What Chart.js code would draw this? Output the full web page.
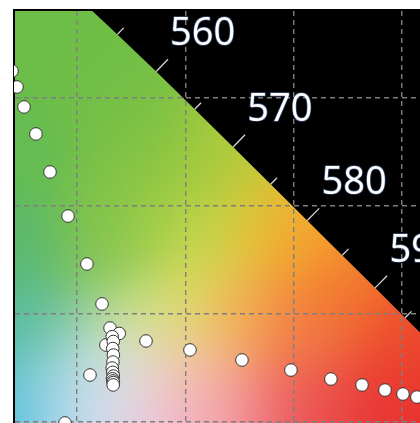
<!DOCTYPE html>
<html>
<head>
<meta charset="utf-8">
<script src="https://cdn.jsdelivr.net/npm/chart.js@4.4.1/dist/chart.umd.min.js"></script>
<style>
html, body { margin: 0; padding: 0; background: #fff; overflow: hidden; }
canvas { display: block; }
</style>
</head>
<body>
<canvas id="cie" width="420" height="423"></canvas>
<script>
// CIE 1931 spectral locus, 5 nm steps
const locusNm = [380,385,390,395,400,405,410,415,420,425,430,435,440,445,450,455,460,465,470,475,480,485,490,495,500,505,510,515,520,525,530,535,540,545,550,555,560,565,570,575,580,585,590,595,600,605,610,615,620,625,630,635,640,645,650,655,660,665,670,675,680,685,690,695,700];
const locusX = [0.1741,0.1740,0.1738,0.1736,0.1733,0.1730,0.1726,0.1721,0.1714,0.1703,0.1689,0.1669,0.1644,0.1611,0.1566,0.1510,0.1440,0.1355,0.1241,0.1096,0.0913,0.0687,0.0454,0.0235,0.0082,0.0039,0.0139,0.0389,0.0743,0.1142,0.1547,0.1929,0.2296,0.2658,0.3016,0.3373,0.3731,0.4087,0.4441,0.4788,0.5125,0.5448,0.5752,0.6029,0.6270,0.6482,0.6658,0.6801,0.6915,0.7006,0.7079,0.7140,0.7190,0.7230,0.7260,0.7283,0.7300,0.7311,0.7320,0.7327,0.7334,0.7340,0.7344,0.7346,0.7347];
const locusY = [0.0050,0.0050,0.0049,0.0049,0.0048,0.0048,0.0048,0.0048,0.0051,0.0058,0.0069,0.0086,0.0109,0.0138,0.0177,0.0227,0.0297,0.0399,0.0578,0.0868,0.1327,0.2007,0.2950,0.4127,0.5384,0.6548,0.7502,0.8120,0.8338,0.8262,0.8059,0.7816,0.7543,0.7243,0.6923,0.6589,0.6245,0.5896,0.5547,0.5202,0.4866,0.4544,0.4242,0.3965,0.3725,0.3514,0.3340,0.3197,0.3083,0.2993,0.2920,0.2859,0.2809,0.2770,0.2740,0.2717,0.2700,0.2689,0.2680,0.2673,0.2666,0.2660,0.2656,0.2654,0.2653];
const labelNm = [470,480,490,500,510,520,530,540,550,560,570,580,590,600,610,620];

// measured chromaticities
const pointX = [0.2400,0.2446,0.2511,0.2621,0.2751,0.2917,0.3092,0.3231,0.3305,0.3390,0.3267,
  0.3325,0.3335,0.3330,0.3336,0.3332,0.3325,0.3330,0.3335,0.3328,0.3332,0.3336,0.3334,
  0.3637,0.4043,0.3120,0.2889,0.4523,0.4975,0.5344,0.5631,0.5843,0.6009,0.6138];
const pointY = [0.6250,0.6102,0.5917,0.5667,0.5315,0.4907,0.4463,0.4093,0.3870,0.3820,0.3713,
  0.3790,0.3745,0.3680,0.3620,0.3555,0.3500,0.3460,0.3425,0.3400,0.3380,0.3365,0.3343,
  0.3750,0.3667,0.3435,0.2991,0.3574,0.3481,0.3398,0.3343,0.3296,0.3259,0.3231];

const xTicks = [0.3, 0.4, 0.5, 0.6];
const yTicks = [0.3, 0.4, 0.5, 0.6];

// colour field samples [x, y, r, g, b]
const shadeRef = [
  [0.2566,0.6630,108,190,72],[0.3028,0.6352,110,190,70],[0.3397,0.5889,118,192,70],
  [0.3600,0.5500,125,193,68],[0.3300,0.5000,118,192,72],
  [0.3951,0.5333,150,200,62],[0.4412,0.5426,178,204,58],[0.4135,0.4778,205,218,78],
  [0.4735,0.4917,236,190,52],[0.5151,0.4685,245,160,45],[0.5520,0.4222,242,118,45],
  [0.5981,0.3759,236,72,45],[0.5981,0.3111,232,50,48],[0.5243,0.3157,233,72,72],
  [0.4689,0.3111,240,115,125],[0.4135,0.3111,243,160,180],[0.3900,0.3000,244,175,200],
  [0.3674,0.3111,245,192,216],[0.3443,0.3018,234,208,234],[0.3300,0.3200,228,228,242],
  [0.3150,0.3250,205,228,244],[0.3212,0.3050,210,220,242],
  [0.2981,0.3204,170,220,240],[0.2751,0.3296,110,200,222],[0.2520,0.3111,66,186,215],
  [0.2474,0.3852,80,185,160],[0.2843,0.3852,108,192,150],[0.2520,0.4593,88,184,110],
  [0.2566,0.5519,100,188,82],[0.3212,0.4500,130,196,82],[0.3674,0.4870,168,208,72],
  [0.3489,0.3944,195,222,140],[0.3212,0.3481,218,234,218],[0.3674,0.3574,238,228,182],
  [0.3951,0.4037,222,222,98],[0.4135,0.3389,245,190,150],[0.4504,0.3944,245,172,78],
  [0.5058,0.3759,242,120,70]
];

function shade(x, y) {
  const s2 = 2 * 0.034 * 0.034;
  let r = 0, g = 0, b = 0, w = 1e-12;
  for (const a of shadeRef) {
    const dx = x - a[0], dy = y - a[1];
    const k = Math.exp(-(dx * dx + dy * dy) / s2);
    r += k * a[2]; g += k * a[3]; b += k * a[4]; w += k;
  }
  return [r / w, g / w, b / w];
}

function locusPx(sx, sy, i) {
  return [sx.getPixelForValue(locusX[i]), sy.getPixelForValue(locusY[i])];
}

const gamutPlugin = {
  id: 'gamut',
  beforeDraw(chart) {
    const {ctx, chartArea: a, scales: {x: sx, y: sy}} = chart;
    ctx.save();
    ctx.fillStyle = '#fff';
    ctx.fillRect(0, 0, chart.width, chart.height);
    ctx.fillStyle = '#000';
    ctx.fillRect(a.left, a.top, a.right - a.left, a.bottom - a.top);

    const w = Math.ceil(a.right - a.left), h = Math.ceil(a.bottom - a.top);
    const off = document.createElement('canvas');
    off.width = w; off.height = h;
    const octx = off.getContext('2d');
    const img = octx.createImageData(w, h);
    for (let j = 0; j < h; j++) {
      const yv = sy.getValueForPixel(a.top + j + 0.5);
      for (let i = 0; i < w; i++) {
        const xv = sx.getValueForPixel(a.left + i + 0.5);
        const c = shade(xv, yv);
        const k = (j * w + i) * 4;
        img.data[k] = c[0]; img.data[k + 1] = c[1]; img.data[k + 2] = c[2]; img.data[k + 3] = 255;
      }
    }
    octx.putImageData(img, 0, 0);

    ctx.beginPath();
    ctx.rect(a.left, a.top, a.right - a.left, a.bottom - a.top);
    ctx.clip();
    ctx.beginPath();
    locusNm.forEach((nm, i) => {
      const p = locusPx(sx, sy, i);
      if (i === 0) ctx.moveTo(p[0], p[1]); else ctx.lineTo(p[0], p[1]);
    });
    ctx.closePath();
    ctx.clip();
    ctx.drawImage(off, a.left, a.top);
    ctx.restore();
  },
  beforeDatasetsDraw(chart) {
    const {ctx, chartArea: a, scales: {x: sx, y: sy}} = chart;
    const wx = sx.getPixelForValue(0.3127), wy = sy.getPixelForValue(0.329);
    ctx.save();
    ctx.beginPath();
    ctx.rect(a.left, a.top, a.right - a.left, a.bottom - a.top);
    ctx.clip();
    for (let i = 1; i < locusNm.length - 1; i++) {
      const p = locusPx(sx, sy, i);
      const p0 = locusPx(sx, sy, i - 1), p1 = locusPx(sx, sy, i + 1);
      let tx = p1[0] - p0[0], ty = p1[1] - p0[1];
      const len = Math.hypot(tx, ty) || 1;
      tx /= len; ty /= len;
      let nx = ty, ny = -tx;
      if ((p[0] - wx) * nx + (p[1] - wy) * ny < 0) { nx = -nx; ny = -ny; }
      const major = locusNm[i] % 10 === 0;
      const tl = major ? 17 : 9;
      ctx.strokeStyle = 'rgba(225,225,225,0.95)';
      ctx.lineWidth = 1.3;
      ctx.beginPath();
      ctx.moveTo(p[0], p[1]);
      ctx.lineTo(p[0] + nx * tl, p[1] + ny * tl);
      ctx.stroke();
      if (labelNm.includes(locusNm[i])) {
        const cx = p[0] + nx * 58 + 6, cy = p[1] + ny * 58 + 1;
        ctx.font = '38px "Open Sans", sans-serif';
        ctx.textAlign = 'center';
        ctx.textBaseline = 'alphabetic';
        ctx.lineWidth = 1.5;
        ctx.strokeStyle = 'rgba(120,170,255,0.45)';
        ctx.strokeText(String(locusNm[i]), cx, cy + 14);
        ctx.fillStyle = '#fff';
        ctx.fillText(String(locusNm[i]), cx, cy + 14);
      }
    }
    ctx.restore();
  }
};

const ctx = document.getElementById('cie').getContext('2d');
const cieChart = new Chart(ctx, {
  type: 'scatter',
  data: {
    datasets: [{
      data: pointX.map((x, i) => ({x: x, y: pointY[i]})),
      pointRadius: 6.3,
      pointBackgroundColor: '#fff',
      pointBorderColor: '#333',
      pointBorderWidth: 1
    }]
  },
  options: {
    responsive: false,
    animation: false,
    events: [],
    layout: { autoPadding: false, padding: { left: 14, top: 10, right: 0, bottom: 0 } },
    plugins: { legend: { display: false }, tooltip: { enabled: false } },
    scales: {
      x: {
        type: 'linear', position: 'top',
        min: 0.24185, max: 0.61662,
        afterBuildTicks: s => { s.ticks = xTicks.map(v => ({value: v})); },
        ticks: { display: false },
        grid: { color: '#7f7f7f', lineWidth: 1.4, drawTicks: false },
        border: { display: true, color: '#000', width: 2, dash: [5, 4] }
      },
      y: {
        type: 'linear', position: 'left',
        min: 0.29907, max: 0.68148,
        afterBuildTicks: s => { s.ticks = yTicks.map(v => ({value: v})); },
        ticks: { display: false },
        grid: { color: '#7f7f7f', lineWidth: 1.4, drawTicks: false },
        border: { display: true, color: '#000', width: 2, dash: [5, 4] }
      }
    }
  },
  plugins: [gamutPlugin]
});
</script>
</body>
</html>
